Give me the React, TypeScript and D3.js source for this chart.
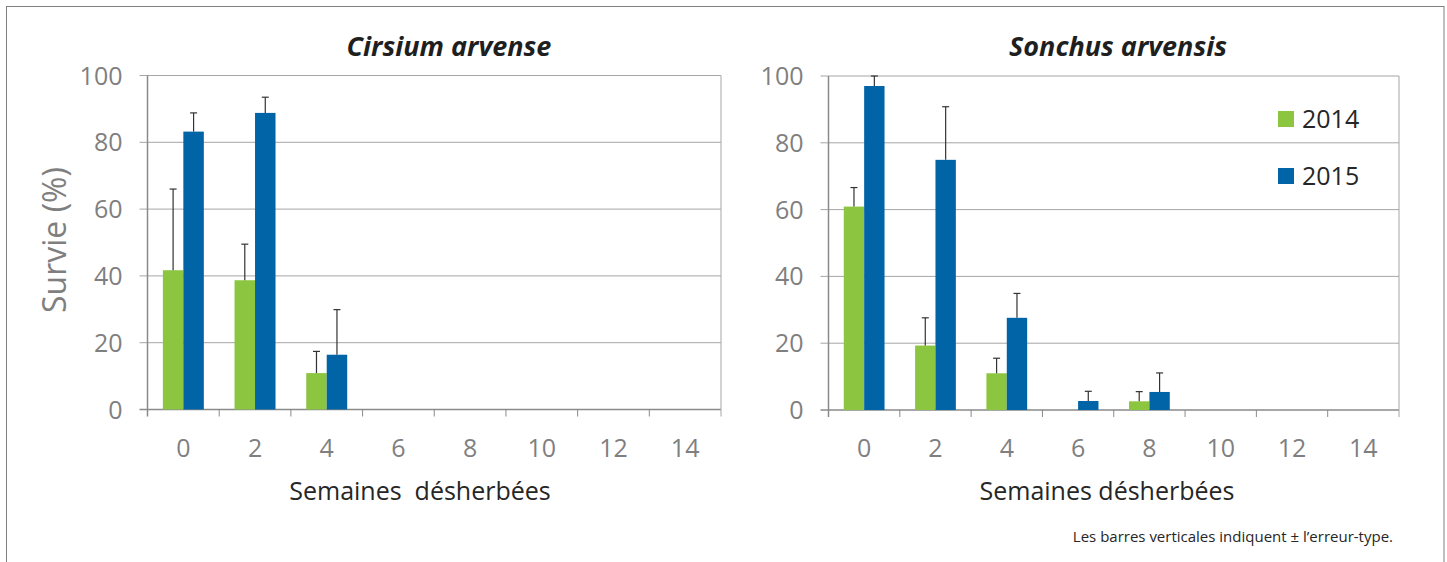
import React, { useEffect } from "react";
import * as d3 from "d3";

const categories = ["0", "2", "4", "6", "8", "10", "12", "14"];
const seriesNames = ["2014", "2015"];
const yTicks = [0, 20, 40, 60, 80, 100];

const cirsium2014 = [41.7, 38.7, 10.9, 0, 0, 0, 0, 0];
const cirsium2014Err = [24.3, 10.8, 6.5, 0, 0, 0, 0, 0];
const cirsium2015 = [83.2, 88.8, 16.4, 0, 0, 0, 0, 0];
const cirsium2015Err = [5.6, 4.7, 13.5, 0, 0, 0, 0, 0];

const sonchus2014 = [60.9, 19.3, 11.0, 0, 2.6, 0, 0, 0];
const sonchus2014Err = [5.7, 8.3, 4.5, 0, 2.9, 0, 0, 0];
const sonchus2015 = [97.0, 74.9, 27.6, 2.7, 5.4, 0, 0, 0];
const sonchus2015Err = [3.0, 15.9, 7.3, 2.9, 5.7, 0, 0, 0];

const COLORS = ["#8cc540", "#0064a7"];
const FONT = "'Open Sans', 'DejaVu Sans', sans-serif";

type PanelProps = {
  x0: number;
  x1: number;
  y0: number;
  y1: number;
  title: string;
  titleX: number;
  xTitle: string;
  xTitleX: number;
  values: number[][];
  errors: number[][];
};

function Panel({ x0, x1, y0, y1, title, titleX, xTitle, xTitleX, values, errors }: PanelProps) {
  const x = d3.scaleBand<string>().domain(categories).range([x0, x1]).padding(0);
  const bw = x.bandwidth();
  const barW = bw / 3.5;
  const inner = d3
    .scaleBand<string>()
    .domain(seriesNames)
    .range([0, barW * 2])
    .padding(0);
  const y = d3.scaleLinear().domain([0, 100]).range([y1, y0]);
  return (
    <g>
      {yTicks.map((t) => (
        <g key={"g" + t}>
          <line x1={x0 - 8} x2={x1} y1={y(t)} y2={y(t)} stroke={t === 0 ? "#8a8a8a" : "#a6a6a6"} strokeWidth={t === 0 ? 1.5 : 1} />
          <text x={x0 - 25} y={y(t)} dy="0.36em" textAnchor="end" fontFamily={FONT} fontSize={25} fill="#7f7f7f">
            {t}
          </text>
        </g>
      ))}
      <line x1={x0} x2={x0} y1={y0} y2={y1 + 7} stroke="#8a8a8a" strokeWidth={1.5} />
      <line x1={x1} x2={x1} y1={y0} y2={y1 + 7} stroke="#a6a6a6" strokeWidth={1} />
      {categories.map((c, i) =>
        i === 0 ? null : (
          <line key={"t" + c} x1={x(c)!} x2={x(c)!} y1={y1} y2={y1 + 7} stroke="#8a8a8a" strokeWidth={1} />
        )
      )}
      {categories.map((c) => (
        <text key={"l" + c} x={x(c)! + bw / 2} y={y1 + 38} dy="0.36em" textAnchor="middle" fontFamily={FONT} fontSize={25} fill="#7f7f7f">
          {c}
        </text>
      ))}
      {seriesNames.map((s, si) =>
        categories.map((c, ci) => {
          const v = values[si][ci];
          if (!v) return null;
          const bx = x(c)! + (bw - barW * 2) / 2 + inner(s)!;
          return (
            <rect key={s + c} x={bx} y={y(v)} width={barW} height={y(0) - y(v)} fill={COLORS[si]} />
          );
        })
      )}
      {seriesNames.map((s, si) =>
        categories.map((c, ci) => {
          const v = values[si][ci];
          const e = errors[si][ci];
          if (!v || !e) return null;
          const mx = x(c)! + (bw - barW * 2) / 2 + inner(s)! + barW / 2;
          return (
            <g key={"e" + s + c} stroke="#333" strokeWidth={1.2}>
              <line x1={mx} x2={mx} y1={y(v)} y2={y(v + e)} />
              <line x1={mx - 3.5} x2={mx + 3.5} y1={y(v + e)} y2={y(v + e)} />
            </g>
          );
        })
      )}
      <text x={titleX} y={46} dy="0.36em" textAnchor="middle" fontFamily={FONT} fontSize={27} fontWeight="bold" fontStyle="italic" fill="#1f1f1f">
        {title}
      </text>
      <text x={xTitleX} y={491} dy="0.36em" textAnchor="middle" fontFamily={FONT} fontSize={25} fill="#262626" style={{ whiteSpace: "pre" }}>
        {xTitle}
      </text>
    </g>
  );
}

export default function App() {
  useEffect(() => {
    document.body.style.margin = "0";
  }, []);
  return (
    <svg width={1447} height={562} style={{ display: "block", background: "#fff" }}>
      <rect x={6.5} y={6.5} width={1437.5} height={600} fill="none" stroke="#7f7f7f" strokeWidth={1} />
      <Panel
        x0={147.5}
        x1={721}
        y0={75.5}
        y1={409.5}
        title="Cirsium arvense"
        titleX={449}
        xTitle={"Semaines\u00a0\u00a0désherbées"}
        xTitleX={420}
        values={[cirsium2014, cirsium2015]}
        errors={[cirsium2014Err, cirsium2015Err]}
      />
      <Panel
        x0={828.5}
        x1={1399}
        y0={76}
        y1={410}
        title="Sonchus arvensis"
        titleX={1118}
        xTitle="Semaines désherbées"
        xTitleX={1107}
        values={[sonchus2014, sonchus2015]}
        errors={[sonchus2014Err, sonchus2015Err]}
      />
      <text transform="translate(54,240) rotate(-90)" textAnchor="middle" dy="0.36em" fontFamily={FONT} fontSize={32} fill="#7f7f7f">
        Survie (%)
      </text>
      {seriesNames.map((s, i) => (
        <g key={"lg" + s}>
          <rect x={1278} y={111 + i * 57} width={16} height={16} fill={COLORS[i]} />
          <text x={1302} y={119 + i * 57} dy="0.36em" fontFamily={FONT} fontSize={25} fill="#262626">
            {s}
          </text>
        </g>
      ))}
      <text x={1393} y={537} dy="0.36em" textAnchor="end" fontFamily={FONT} fontSize={15} fill="#262626">
        Les barres verticales indiquent ± l’erreur-type.
      </text>
    </svg>
  );
}
